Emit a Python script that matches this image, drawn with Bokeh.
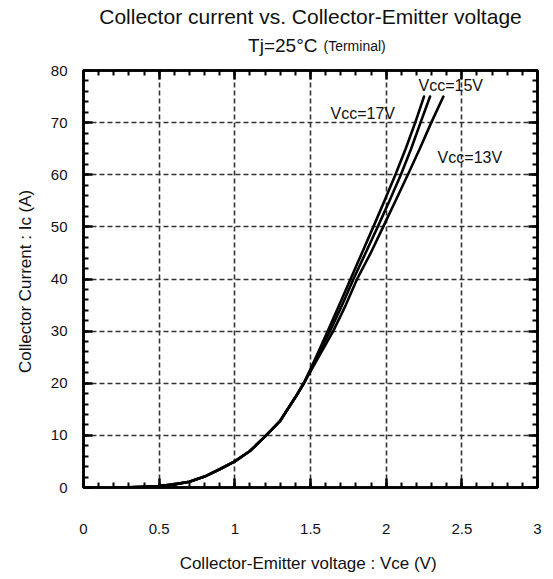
from bokeh.plotting import figure
from bokeh.layouts import column
from bokeh.models import FixedTicker, LinearAxis, Range1d, Label, CustomJSTickFormatter
from bokeh.core.properties import value
from bokeh.embed import file_html
from bokeh.resources import INLINE

# ---- data ----
vce_17 = [0.2, 0.3, 0.4, 0.5, 0.6, 0.7, 0.8, 0.9, 1.0, 1.1, 1.2, 1.3, 1.4, 1.456,
          1.536, 1.614, 1.690, 1.765, 1.840, 1.915, 1.989, 2.061, 2.129, 2.192, 2.250]
ic_17 = [0.0, 0.05, 0.15, 0.3, 0.6, 1.1, 2.1, 3.5, 5.0, 7.0, 9.8, 12.8, 17.3, 20.0,
         25, 30, 35, 40, 45, 50, 55, 60, 65, 70, 75]

vce_15 = [0.2, 0.3, 0.4, 0.5, 0.6, 0.7, 0.8, 0.9, 1.0, 1.1, 1.2, 1.3, 1.4, 1.456,
          1.541, 1.629, 1.709, 1.784, 1.864, 1.944, 2.022, 2.097, 2.165, 2.227, 2.290]
ic_15 = [0.0, 0.05, 0.15, 0.3, 0.6, 1.1, 2.1, 3.5, 5.0, 7.0, 9.8, 12.8, 17.3, 20.0,
         25, 30, 35, 40, 45, 50, 55, 60, 65, 70, 75]

vce_13 = [0.2, 0.3, 0.4, 0.5, 0.6, 0.7, 0.8, 0.9, 1.0, 1.1, 1.2, 1.3, 1.4, 1.456,
          1.553, 1.650, 1.733, 1.808, 1.898, 1.980, 2.062, 2.143, 2.222, 2.298, 2.378]
ic_13 = [0.0, 0.05, 0.15, 0.3, 0.6, 1.1, 2.1, 3.5, 5.0, 7.0, 9.8, 12.8, 17.3, 20.0,
         25, 30, 35, 40, 45, 50, 55, 60, 65, 70, 75]

series_names = ["Vcc=17V", "Vcc=15V", "Vcc=13V"]
label_x = [1.632, 2.214, 2.34]
label_y = [71.8, 77.2, 63.3]

x_ticks = [0, 0.5, 1, 1.5, 2, 2.5, 3]
x_tick_labels = ["0", "0.5", "1", "1.5", "2", "2.5", "3"]
x_minor = [round(i * 0.1, 2) for i in range(31)]
y_ticks = [0, 10, 20, 30, 40, 50, 60, 70, 80]
y_tick_labels = ["0", "10", "20", "30", "40", "50", "60", "70", "80"]
y_minor = list(range(0, 81, 2))

title_line1 = "Collector current vs. Collector-Emitter voltage"
title_line2a = "Tj=25°C"
title_line2b = "(Terminal)"
x_title = "Collector-Emitter voltage : Vce  (V)"
y_title = "Collector Current : Ic  (A)"

FONT = "Liberation Sans"
TXT = "#111111"
W = 548
HEAD_H = 58
LEFT, RIGHT = 83, 11

# ---- header (titles); its frame is aligned with the chart frame by the column ----
head = figure(width=W, height=HEAD_H, x_range=Range1d(0, 3), y_range=Range1d(0, HEAD_H),
              output_backend="svg", toolbar_location=None,
              min_border_left=LEFT, min_border_right=RIGHT, min_border_top=0, min_border_bottom=0,
              x_axis_location=None, y_axis_location=None)
head.grid.visible = False
head.outline_line_color = None
head.background_fill_color = "white"
head.border_fill_color = "white"
head.text(x=[1.5], y=[HEAD_H - 16], text=[title_line1], text_align="center",
          text_baseline="middle", text_font=value(FONT), text_font_size="21px", text_color=TXT)
head.text(x=[1.5], y=[HEAD_H - 45], x_offset=7, text=[title_line2a], text_align="right",
          text_baseline="middle", text_font=value(FONT), text_font_size="19px", text_color=TXT)
head.text(x=[1.5], y=[HEAD_H - 45], x_offset=13, text=[title_line2b], text_align="left",
          text_baseline="middle", text_font=value(FONT), text_font_size="14px", text_color=TXT)

# ---- main chart ----
p = figure(width=W, height=579 - HEAD_H, x_range=Range1d(0, 3), y_range=Range1d(0, 80),
           output_backend="svg", toolbar_location=None,
           min_border_left=LEFT, min_border_right=RIGHT, min_border_top=70 - HEAD_H,
           min_border_bottom=92, x_axis_location=None, y_axis_location=None)
p.background_fill_color = "white"
p.border_fill_color = "white"
p.outline_line_color = "black"
p.outline_line_width = 2.5

xt = FixedTicker(ticks=x_ticks, minor_ticks=x_minor)
yt = FixedTicker(ticks=y_ticks, minor_ticks=y_minor)


def style(ax):
    ax.major_tick_in = 9
    ax.major_tick_out = 0
    ax.minor_tick_in = 5
    ax.minor_tick_out = 0
    ax.major_tick_line_width = 2.5
    ax.minor_tick_line_width = 2
    ax.major_tick_line_color = "black"
    ax.minor_tick_line_color = "black"
    ax.axis_line_width = 2.5
    ax.axis_line_color = "black"
    ax.major_label_text_font = FONT
    ax.major_label_text_font_size = "15px"
    ax.major_label_text_color = TXT
    ax.axis_label_text_font = FONT
    ax.axis_label_text_font_size = "17px"
    ax.axis_label_text_font_style = "normal"
    ax.axis_label_text_color = TXT


xb = LinearAxis(ticker=xt, axis_label=x_title,
                major_label_overrides={t: l for t, l in zip(x_ticks, x_tick_labels)})
style(xb)
xb.major_label_standoff = 36
xb.axis_label_standoff = 17
p.add_layout(xb, "below")

yl = LinearAxis(ticker=yt, axis_label=y_title,
                major_label_overrides={t: l for t, l in zip(y_ticks, y_tick_labels)})
style(yl)
yl.major_label_standoff = 16
yl.axis_label_standoff = 13
p.add_layout(yl, "left")

blank = CustomJSTickFormatter(code="return ''")
xa = LinearAxis(ticker=xt, formatter=blank)
style(xa)
xa.major_label_standoff = 0
p.add_layout(xa, "above")
yr = LinearAxis(ticker=yt, formatter=blank)
style(yr)
yr.major_label_standoff = 0
p.add_layout(yr, "right")

for g, t in ((p.xgrid, xt), (p.ygrid, yt)):
    g.ticker = t
    g.grid_line_color = "#333333"
    g.grid_line_width = 1.6
    g.grid_line_dash = "5 3"

for xs, ys in ((vce_17, ic_17), (vce_15, ic_15), (vce_13, ic_13)):
    p.line(xs, ys, line_color="black", line_width=2.6, line_join="round", line_cap="round")

for name, lx, ly in zip(series_names, label_x, label_y):
    p.add_layout(Label(x=lx, y=ly, text=name, text_align="left", text_baseline="middle",
                       text_font=FONT, text_font_size="16px", text_color=TXT))

layout = column(head, p, spacing=0)
open("out.html", "w").write(file_html(layout, INLINE))
